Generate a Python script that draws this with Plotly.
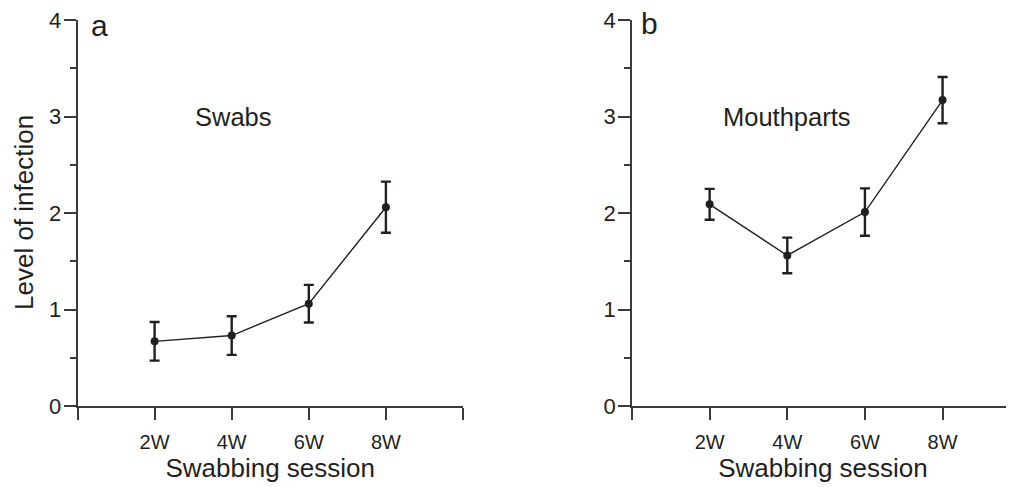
import plotly.graph_objects as go

sessions = ["2W", "4W", "6W", "8W"]
swabs_mean = [0.67, 0.73, 1.06, 2.06]
swabs_err = [0.20, 0.20, 0.195, 0.265]
mouth_mean = [2.09, 1.56, 2.01, 3.17]
mouth_err = [0.16, 0.185, 0.245, 0.24]
y_ticks = [0, 1, 2, 3, 4]

INK = "#231f20"
AX = "#3a3a3a"
FONT = "Liberation Sans, Arial, Helvetica, sans-serif"
xpos = list(range(1, len(sessions) + 1))

# page body has an 8px default margin; layout below compensates for it
W, H = 1014, 487

fig = go.Figure()
for mean, err, xa, ya in [(swabs_mean, swabs_err, "x", "y"), (mouth_mean, mouth_err, "x2", "y2")]:
    fig.add_trace(go.Scatter(
        x=xpos, y=mean, xaxis=xa, yaxis=ya, mode="lines+markers",
        line=dict(color=INK, width=1.4),
        marker=dict(color=INK, size=8),
        error_y=dict(type="data", array=err, visible=True, color=INK, thickness=2.4, width=5),
        showlegend=False, cliponaxis=False,
    ))

def xaxis(domain, rng, vals, anchor):
    return dict(domain=domain, range=rng, anchor=anchor, tickmode="array", tickvals=vals,
                ticktext=[""] + sessions + [""] * (len(vals) - 5),
                showline=True, linecolor=AX, linewidth=1.5, ticks="outside",
                ticklen=12, tickwidth=1.5, tickcolor=AX, showgrid=False, zeroline=False,
                tickfont=dict(size=20, color=INK, family=FONT), ticklabelstandoff=5,
                ticklabeloverflow="allow",
                title=dict(text="Swabbing session", font=dict(size=26, color=INK, family=FONT), standoff=7),
                automargin=False, fixedrange=True)

def yaxis(anchor):
    return dict(domain=[0, 1], range=[0, 4], anchor=anchor, tickmode="array", tickvals=y_ticks,
                showline=True, linecolor=AX, linewidth=1.5, ticks="outside", ticklen=12,
                tickwidth=1.5, tickcolor=AX, showgrid=False, zeroline=False,
                tickfont=dict(size=22, color=INK, family=FONT), ticklabelstandoff=-2,
                ticklabeloverflow="allow",
                minor=dict(dtick=0.5, ticks="outside", ticklen=6, tickwidth=1.5, tickcolor=AX, showgrid=False),
                automargin=False, fixedrange=True)

fig.update_layout(
    width=W, height=H,
    margin=dict(l=0, r=0, t=12, b=89, autoexpand=False),
    paper_bgcolor="white", plot_bgcolor="white",
    font=dict(family=FONT, color=INK),
    xaxis=xaxis([69.5 / W, 455 / W], [0, 5], [0, 1, 2, 3, 4, 5], "y"),
    xaxis2=xaxis([624 / W, 1006 / W], [0, 4.92], [0, 1, 2, 3, 4], "y2"),
    yaxis=yaxis("x"),
    yaxis2=yaxis("x2"),
    annotations=[
        dict(text="Level of infection", x=16 / W, y=0.5, xref="paper", yref="paper",
             xanchor="center", yanchor="middle", textangle=-90, showarrow=False,
             font=dict(size=26, color=INK, family=FONT)),
        dict(text="a", x=69.5 / W, y=1.0, xref="paper", yref="paper", xanchor="left", yanchor="top",
             xshift=11, yshift=13, showarrow=False, font=dict(size=30, color=INK, family=FONT)),
        dict(text="b", x=624 / W, y=1.0, xref="paper", yref="paper", xanchor="left", yanchor="top",
             xshift=7, yshift=15, showarrow=False, font=dict(size=30, color=INK, family=FONT)),
        dict(text="Swabs", x=2, y=3, xref="x", yref="y", showarrow=False, xshift=2,
             font=dict(size=25.5, color=INK, family=FONT)),
        dict(text="Mouthparts", x=2, y=3, xref="x2", yref="y2", showarrow=False,
             font=dict(size=25.5, color=INK, family=FONT)),
    ],
)

fig.write_html("out.html")
